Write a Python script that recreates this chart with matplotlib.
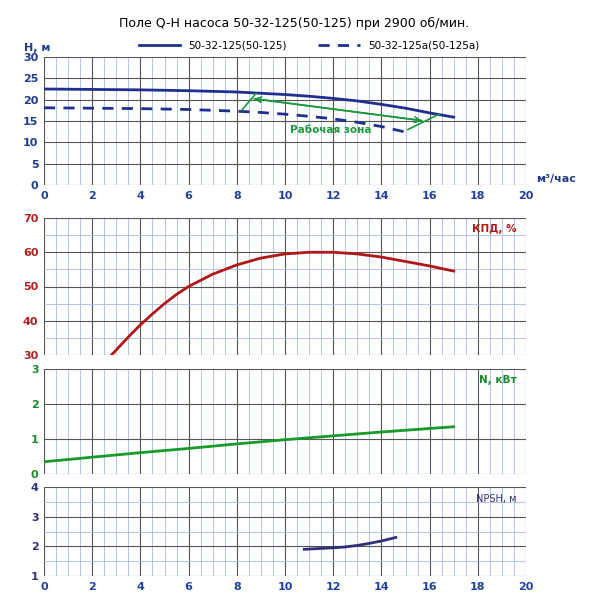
import numpy as np
import matplotlib.pyplot as plt
from matplotlib.ticker import MultipleLocator

q_h1 = [0, 2, 4, 6, 8, 9, 10, 11, 12, 13, 14, 15, 16, 17]
h1 = [22.5, 22.4, 22.3, 22.1, 21.8, 21.5, 21.2, 20.8, 20.3, 19.7, 18.9, 18.0, 16.9, 15.9]
q_h2 = [0, 2, 4, 6, 8, 9, 10, 11, 12, 13, 14, 15]
h2 = [18.1, 18.0, 17.9, 17.7, 17.3, 17.0, 16.6, 16.1, 15.5, 14.7, 13.7, 12.4]
q_eff = [2.8, 3.2, 3.6, 4, 4.5, 5, 5.5, 6, 7, 8, 9, 10, 11, 12, 13, 14, 15, 16, 17]
eff = [30, 33.0, 36.0, 38.8, 42.0, 45.0, 47.7, 50, 53.6, 56.3, 58.3, 59.5, 60, 60, 59.5, 58.6, 57.3, 56, 54.5]
q_n = [0, 2, 4, 6, 8, 10, 12, 14, 16, 17]
power = [0.35, 0.48, 0.61, 0.73, 0.86, 0.98, 1.09, 1.2, 1.3, 1.35]
q_npsh = [10.8, 11.5, 12, 12.5, 13, 13.5, 14, 14.6]
npsh = [1.9, 1.93, 1.95, 1.98, 2.03, 2.1, 2.18, 2.3]

fig = plt.figure(figsize=(5.89, 6), dpi=100)
L, R = 44 / 589, 526 / 589
def ax_at(top, bottom):
    return fig.add_axes([L, 1 - bottom / 600, R - L, (bottom - top) / 600])

def style(ax, ylim, ystep, ycol, yminor=True):
    ax.set_xlim(0, 20)
    ax.set_ylim(*ylim)
    ax.xaxis.set_major_locator(MultipleLocator(2))
    ax.xaxis.set_minor_locator(MultipleLocator(0.5))
    ax.yaxis.set_major_locator(MultipleLocator(ystep))
    ax.grid(which='major', color='#555555', lw=0.8)
    ax.grid(which='minor', axis='x', color='#a8b8e8', lw=0.6)
    if yminor:
        ax.yaxis.set_minor_locator(MultipleLocator(ystep / 2))
        ax.grid(which='minor', axis='y', color='#a8b8e8', lw=0.6)
    ax.set_axisbelow(True)
    for s in ax.spines.values():
        s.set_visible(False)
    ax.tick_params(which='both', length=0, labelsize=8, pad=4)
    ax.tick_params(axis='x', colors='#2040a0')
    ax.tick_params(axis='y', colors=ycol)
    for t in ax.get_xticklabels() + ax.get_yticklabels():
        t.set_fontweight('bold')

ax1 = ax_at(57, 185)
style(ax1, (0, 30), 5, '#1f3a8f', yminor=False)
ax1.plot(q_h1, h1, color='#1f2f8f', lw=2, label='50-32-125(50-125)')
ax1.plot(q_h2, h2, color='#1f2f8f', lw=2, ls=(0, (4, 3)), label='50-32-125а(50-125а)')
ax1.annotate('', xy=(8.6, 20.3), xytext=(15.8, 15), arrowprops=dict(arrowstyle='->', color='#1a9a3a', lw=1.2))
ax1.annotate('', xy=(15.8, 15), xytext=(8.6, 20.3), arrowprops=dict(arrowstyle='->', color='#1a9a3a', lw=1.2))
ax1.plot([8.2, 8.8], [17.5, 21.5], color='#1a9a3a', lw=1.2)
ax1.plot([15.1, 16.4], [13, 16.6], color='#1a9a3a', lw=1.2)
ax1.text(10.2, 12.3, 'Рабочая зона', color='#1a9a3a', fontsize=7.5, fontweight='bold')
ax1.legend(loc='lower center', bbox_to_anchor=(0.55, 0.98), ncol=2, frameon=False, fontsize=7.5,
           handlelength=4, columnspacing=3)
ax1.text(-0.3, 31.5, 'H, м', color='#1f3a8f', fontsize=8, ha='center', fontweight='bold')
ax1.text(20.4, 0.8, 'м³/час', color='#1f3a8f', fontsize=8, ha='left', fontweight='bold')
fig.text(0.5, 1 - 27 / 600, 'Поле Q-H насоса 50-32-125(50-125) при 2900 об/мин.', ha='center', fontsize=9)

ax2 = ax_at(218, 355)
style(ax2, (30, 70), 10, '#b02020')
ax2.plot(q_eff, eff, color='#b01818', lw=2)
ax2.text(19.6, 66, 'КПД, %', color='#b01818', fontsize=7.5, ha='right', fontweight='bold')
ax2.tick_params(axis='x', labelbottom=False)

ax3 = ax_at(369, 474)
style(ax3, (0, 3), 1, '#1a8a2a', yminor=False)
ax3.plot(q_n, power, color='#1a9a2a', lw=2)
ax3.text(19.6, 2.6, 'N, кВт', color='#1a8a2a', fontsize=7.5, ha='right', fontweight='bold')
ax3.tick_params(axis='x', labelbottom=False)

ax4 = ax_at(487, 576)
style(ax4, (1, 4), 1, '#30307a')
ax4.plot(q_npsh, npsh, color='#30307a', lw=2)
ax4.text(19.6, 3.5, 'NPSH, м', color='#30307a', fontsize=7, ha='right')

fig.savefig('out.png', dpi=100)
